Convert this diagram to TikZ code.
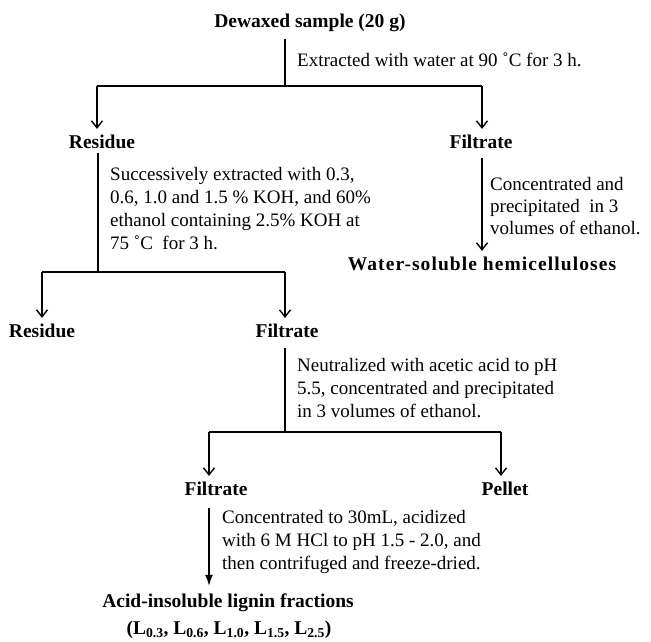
\documentclass[tikz,border=0pt]{standalone}
\usepackage{fontspec}
\setmainfont{Liberation Serif}
\usetikzlibrary{arrows.meta}
\begin{document}
\begin{tikzpicture}[x=1pt,y=-1pt,
  lbl/.style={font=\fontsize{19.5}{23}\selectfont\bfseries, inner sep=0pt},
  note/.style={font=\fontsize{19}{23}\selectfont, align=left, anchor=west, inner sep=0pt},
  notetight/.style={font=\fontsize{19}{22}\selectfont, align=left, anchor=west, inner sep=0pt},
  ln/.style={line width=1.4pt},
  openarr/.style={ln, -{Straight Barb[length=7pt,width=11pt,line width=1.4pt]}, shorten >=6pt},
  fillarr/.style={ln, -{Latex[length=11pt,width=8pt]}, shorten >=8pt}]
\useasboundingbox (0,0) rectangle (651,641);
% nodes
\node[lbl] (dew) at (310,23) {Dewaxed sample (20 g)};
\node[note] (n1) at (297,60) {Extracted with water at 90 ˚C for 3 h.};
\node[lbl] (res1) at (102,142) {Residue};
\node[lbl] (fil1) at (481,142) {Filtrate};
\node[note] (n2) at (110,208.5) {Successively extracted with 0.3,\\0.6, 1.0 and 1.5 \% KOH, and 60\%\\ethanol containing 2.5\% KOH at\\75 ˚C\ \ for 3 h.};
\node[notetight] (n3) at (490,206) {Concentrated and\\precipitated\ \ in 3\\volumes of ethanol.};
\node[lbl] (ws) at (482,264) {\addfontfeature{LetterSpace=5.5}Water-soluble hemicelluloses};
\node[lbl] (res2) at (42,331) {Residue};
\node[lbl] (fil2) at (287,331) {Filtrate};
\node[note] (n4) at (297,388) {Neutralized with acetic acid to pH\\5.5, concentrated and precipitated\\in 3 volumes of ethanol.};
\node[lbl] (fil3) at (216,489) {Filtrate};
\node[lbl] (pel) at (505,489) {Pellet};
\node[note] (n5) at (222,542) {Concentrated to 30mL, acidized\\with 6 M HCl to pH 1.5 - 2.0, and\\then contrifuged and freeze-dried.};
\node[lbl] (acid) at (228,603) {Acid-insoluble lignin fractions};
\node[lbl] (lfr) at (229,630) {(L\textsubscript{0.3}, L\textsubscript{0.6}, L\textsubscript{1.0}, L\textsubscript{1.5}, L\textsubscript{2.5})};
% junction coordinates
\coordinate (v1t) at (285,39);
\coordinate (j1) at (285,86);
\coordinate (b1l) at (97,86);
\coordinate (b1r) at (482,86);
\coordinate (v2t) at (98,153);
\coordinate (j2) at (98,272);
\coordinate (b2l) at (42,272);
\coordinate (b2r) at (285,272);
\coordinate (v3t) at (482,158);
\coordinate (v4t) at (285,348);
\coordinate (j4) at (285,432);
\coordinate (b3l) at (209,432);
\coordinate (b3r) at (501,432);
\coordinate (v5t) at (209,508);
% connectors
\draw[ln] (v1t) -- (j1);
\draw[ln] (b1l) -- (b1r);
\draw[openarr] (b1l) -- (b1l |- res1.north);
\draw[openarr] (b1r) -- (b1r |- fil1.north);
\draw[ln] (v2t) -- (j2);
\draw[ln] (b2l) -- (b2r);
\draw[openarr] (v3t) -- (v3t |- ws.north);
\draw[openarr] (b2l) -- (b2l |- res2.north);
\draw[openarr] (b2r) -- (b2r |- fil2.north);
\draw[ln] (v4t) -- (j4);
\draw[ln] (b3l) -- (b3r);
\draw[openarr] (b3l) -- (b3l |- fil3.north);
\draw[openarr] (b3r) -- (b3r |- pel.north);
\draw[fillarr] (v5t) -- (v5t |- acid.north);
\end{tikzpicture}
\end{document}
